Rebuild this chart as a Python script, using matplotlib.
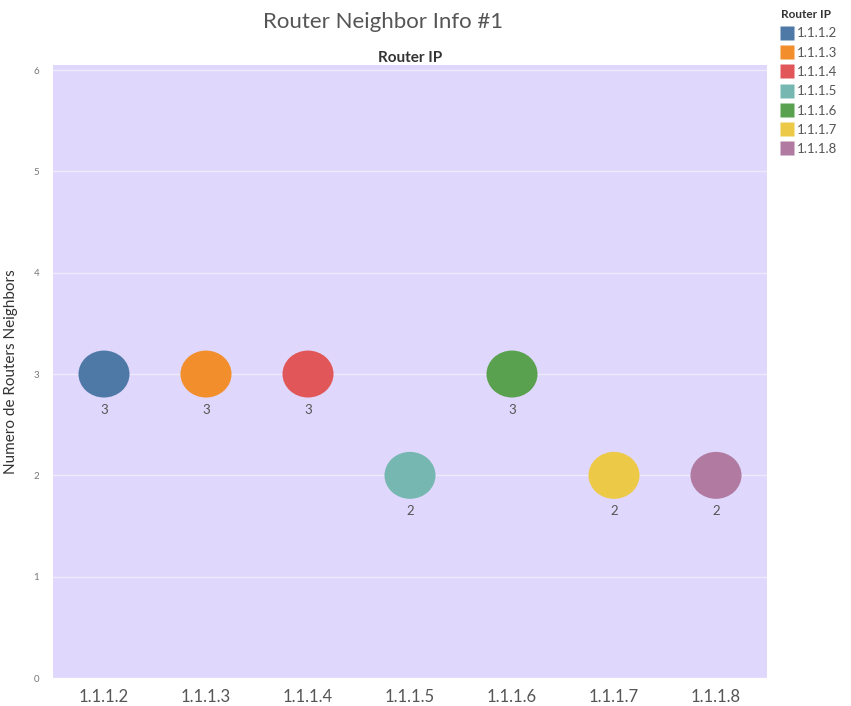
import matplotlib
matplotlib.use("Agg")
import matplotlib.pyplot as plt
from matplotlib.lines import Line2D
from matplotlib.path import Path
from matplotlib.transforms import Affine2D

plt.rcParams['font.family'] = ['Lato', 'DejaVu Sans']

routers = ["1.1.1.2", "1.1.1.3", "1.1.1.4", "1.1.1.5", "1.1.1.6", "1.1.1.7", "1.1.1.8"]
neighbors = [3, 3, 3, 2, 3, 2, 2]
colors = ["#4E79A7", "#F28E2B", "#E15759", "#76B7B2", "#59A14F", "#EDC948", "#B07AA1"]

fig = plt.figure(figsize=(8.51, 7.06), dpi=100)
ax = fig.add_axes([53/851, 1 - 678/706, 714/851, 613/706])
ax.set_facecolor("#E0D8FC")

ellipse = Path.unit_circle().transformed(Affine2D().scale(1.0, 0.92))
xs = [i + 0.5 for i in range(len(routers))]
ax.scatter(xs, neighbors, s=1350, c=colors, edgecolors="none", marker=ellipse, zorder=3)
for x, v in zip(xs, neighbors):
    ax.annotate(str(v), (x, v), xytext=(0, -26), textcoords="offset points",
                ha="center", va="center", fontsize=9.5, color="#555555", zorder=4)

ax.set_xlim(0, 7)
ax.set_ylim(0, 6.05)
ax.set_xticks(xs)
ax.set_xticklabels(routers, fontsize=12, color="#555555")
ax.set_yticks(range(7))
ax.set_yticklabels([str(i) for i in range(7)], fontsize=7, color="#777777")
ax.yaxis.grid(True, color="#EEEAFB", linewidth=1)
ax.set_axisbelow(True)
for s in ax.spines.values():
    s.set_visible(False)
ax.tick_params(axis="both", length=0)
ax.tick_params(axis="x", pad=8)
ax.tick_params(axis="y", pad=10)
ax.set_ylabel("Numero de Routers Neighbors", fontsize=11, color="#333333")
ax.yaxis.set_label_coords(-(53 - 18) / 714, 0.5)

fig.text(383/851, 1 - 22/706, "Router Neighbor Info #1", ha="center", va="center",
         fontsize=16, color="#555555")
fig.text(410/851, 1 - 58/706, "Router IP", ha="center", va="center",
         fontsize=11, fontweight="bold", color="#333333")

handles = [Line2D([0], [0], marker="s", linestyle="none", markersize=10,
                  markerfacecolor=c, markeredgecolor="none") for c in colors]
leg = fig.legend(handles, routers, loc="upper left", bbox_to_anchor=(772/851, 1 - 0/706),
                 frameon=False, title="Router IP", fontsize=9.5, handletextpad=0.3,
                 labelspacing=0.55, handlelength=0.9, borderpad=0.2,
                 title_fontproperties={"size": 8.5, "weight": "bold"})
leg._legend_box.align = "left"
for t in leg.get_texts():
    t.set_color("#555555")
leg.get_title().set_color("#333333")

fig.savefig("out.png", dpi=100, facecolor="white")
